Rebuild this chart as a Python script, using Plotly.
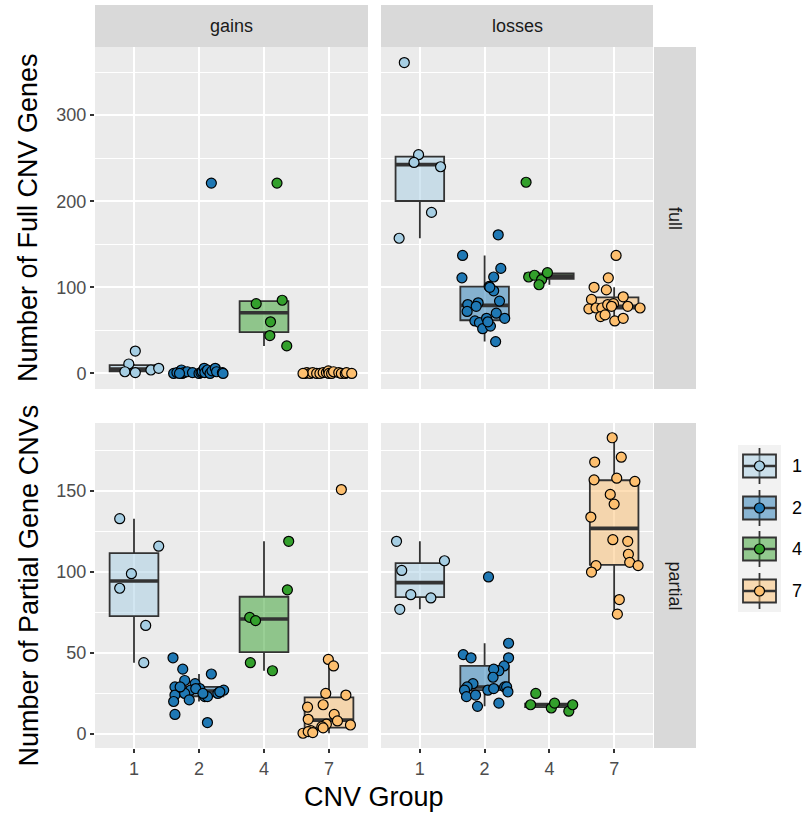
import numpy as np
import plotly.graph_objects as go

W, H = 806, 814

groups = ["1", "2", "4", "7"]
group_colors = ["#A6CEE3", "#1F78B4", "#33A02C", "#FDBF6F"]
directions = ["gains", "losses"]
types = ["full", "partial"]

# ---- gains / full ----
gains_full_1_y = [26, 11, 2, 1, 4, 6]
gains_full_1_dx = [0.02, -0.08, -0.14, 0.02, 0.26, 0.38]
gains_full_2_y = [0, 1, 4, 0, 1, 2, 1, 0, 1, 2, 6, 1, 4, 0, 221, 3, 6, 2, 1, 0, 0]
gains_full_2_dx = [-0.39, -0.34, -0.27, -0.26, -0.23, -0.18, -0.10, 0.00, 0.03, 0.05, 0.08,
                   0.09, 0.13, 0.17, 0.19, 0.20, 0.25, 0.27, 0.36, 0.37, -0.30]
gains_full_4_y = [81, 85, 60, 44, 32, 221]
gains_full_4_dx = [-0.12, 0.28, 0.10, 0.09, 0.35, 0.20]
gains_full_7_y = [0, 1, 0, 1, 0, 0, 1, 1, 3, 0, 0, 2, 1, 0, 0, 1, 0, 0]
gains_full_7_dx = [-0.37, -0.34, -0.29, -0.25, -0.19, -0.14, -0.09, -0.04, -0.01, 0.00,
                   0.04, 0.07, 0.15, 0.19, 0.25, 0.27, 0.35, -0.40]

# ---- losses / full ----
losses_full_1_y = [361, 254, 245, 240, 187, 157]
losses_full_1_dx = [-0.24, -0.02, -0.09, 0.32, 0.18, -0.32]
losses_full_2_y = [137, 111, 161, 122, 112, 101, 96, 80, 82, 84, 72, 61, 59, 64, 52, 55,
                   70, 64, 37, 78, 60, 100]
losses_full_2_dx = [-0.34, -0.35, 0.21, 0.25, 0.14, 0.07, 0.14, -0.26, -0.10, 0.23, -0.27,
                    -0.15, -0.08, 0.03, -0.03, 0.09, 0.18, 0.31, 0.17, -0.13, 0.05, 0.08]
losses_full_4_y = [222, 112, 114, 109, 117, 103]
losses_full_4_dx = [-0.36, -0.32, -0.23, -0.12, -0.03, -0.16]
losses_full_7_y = [137, 111, 100, 97, 89, 86, 78, 76, 75, 76, 76, 80, 81, 66, 68, 61, 64, 78]
losses_full_7_dx = [0.03, -0.09, -0.31, -0.12, 0.14, -0.35, 0.21, 0.40, -0.39, -0.28, -0.19,
                    -0.10, -0.01, -0.21, -0.14, 0.01, 0.14, -0.04]

# ---- gains / partial ----
gains_partial_1_y = [133, 116, 99, 90, 67, 44]
gains_partial_1_dx = [-0.22, 0.38, -0.04, -0.22, 0.18, 0.15]
gains_partial_2_y = [47, 40, 33, 31, 29, 27, 28, 24, 25, 21, 20, 23, 23, 37, 25, 27, 26, 12,
                     7, 29, 28, 25]
gains_partial_2_dx = [-0.40, -0.25, -0.22, -0.06, -0.37, -0.13, 0.01, -0.37, -0.22, -0.15,
                      -0.39, 0.09, 0.13, 0.19, 0.29, 0.38, 0.32, -0.37, 0.13, -0.29, -0.05, 0.06]
gains_partial_4_y = [119, 89, 72, 70, 44, 39]
gains_partial_4_dx = [0.38, 0.36, -0.22, -0.13, -0.21, 0.13]
gains_partial_7_y = [151, 46, 42, 25, 24, 18, 16.5, 12, 9, 8, 6, 5.5, 4.5, 3.7, 2, 0.4, 1.4, 0.8]
gains_partial_7_dx = [0.19, -0.01, 0.07, -0.05, 0.26, -0.09, -0.33, 0.08, -0.32, 0.13, -0.04,
                      0.33, -0.11, -0.09, -0.28, -0.40, -0.32, -0.25]

# ---- losses / partial ----
losses_partial_1_y = [119, 107, 101, 86, 84, 77]
losses_partial_1_dx = [-0.36, 0.38, -0.28, -0.14, 0.17, -0.31]
losses_partial_2_y = [97, 49, 47, 56, 47, 42, 39, 40, 35, 31, 29, 27, 23, 24, 17, 27, 28, 19,
                      29, 29, 26]
losses_partial_2_dx = [0.06, -0.33, -0.21, 0.37, 0.37, 0.30, 0.22, 0.14, 0.13, -0.18, -0.27,
                       -0.31, -0.28, -0.14, -0.11, 0.05, 0.14, 0.22, 0.31, 0.34, 0.36]
losses_partial_4_y = [25, 18, 16, 19, 14, 18]
losses_partial_4_dx = [-0.21, -0.29, 0.03, 0.08, 0.30, 0.36]
losses_partial_7_y = [183, 171, 168, 157, 158, 156, 148, 142, 134, 120, 119, 111, 106, 104,
                      104, 100, 83, 74]
losses_partial_7_dx = [-0.03, 0.11, -0.30, -0.31, 0.04, 0.32, -0.06, 0.00, -0.36, -0.02, 0.21,
                       0.22, 0.24, 0.37, -0.28, -0.35, 0.08, 0.05]

panel_data = {
    ("gains", "full"): ([gains_full_1_y, gains_full_2_y, gains_full_4_y, gains_full_7_y],
                        [gains_full_1_dx, gains_full_2_dx, gains_full_4_dx, gains_full_7_dx]),
    ("losses", "full"): ([losses_full_1_y, losses_full_2_y, losses_full_4_y, losses_full_7_y],
                         [losses_full_1_dx, losses_full_2_dx, losses_full_4_dx, losses_full_7_dx]),
    ("gains", "partial"): ([gains_partial_1_y, gains_partial_2_y, gains_partial_4_y, gains_partial_7_y],
                           [gains_partial_1_dx, gains_partial_2_dx, gains_partial_4_dx, gains_partial_7_dx]),
    ("losses", "partial"): ([losses_partial_1_y, losses_partial_2_y, losses_partial_4_y, losses_partial_7_y],
                            [losses_partial_1_dx, losses_partial_2_dx, losses_partial_4_dx, losses_partial_7_dx]),
}

y_titles = {"full": "Number of Full CNV Genes", "partial": "Number of Partial Gene CNVs"}
y_ticks = {"full": [0, 100, 200, 300], "partial": [0, 50, 100, 150]}
y_minor = {"full": [50, 150, 250, 350], "partial": [25, 75, 125, 175]}
x_title = "CNV Group"

FONT = "Liberation Sans, Arial, Helvetica, sans-serif"
BOX_LINE = "#333333"
TICK_SIZE = 18
STRIP_SIZE = 18
TITLE_SIZE = 27

# layout geometry (pixels)
col_px = [(95, 368), (381, 653)]
row_px = [(47, 389), (423, 748)]


def fx(px):
    return px / W


def fy(py):
    return 1 - py / H


def hex_rgba(h, a):
    h = h.lstrip("#")
    return "rgba(%d,%d,%d,%.2f)" % (int(h[0:2], 16), int(h[2:4], 16), int(h[4:6], 16), a)


fig = go.Figure()

box_traces, med_traces, pt_traces = [], [], []
layout_axes = {}
ax_i = 0
for r, t in enumerate(types):
    all_vals = np.concatenate([np.array(v, float) for d in directions for v in panel_data[(d, t)][0]])
    lo_d, hi_d = all_vals.min(), all_vals.max()
    pad = 0.05 * (hi_d - lo_d)
    yrange = [lo_d - pad, hi_d + pad]
    for c, d in enumerate(directions):
        ax_i += 1
        sfx = "" if ax_i == 1 else str(ax_i)
        xa, ya = "x" + sfx, "y" + sfx
        ys_list, dx_list = panel_data[(d, t)]
        for g in range(4):
            v = np.array(ys_list[g], float)
            q1, med, q3 = np.percentile(v, [25, 50, 75])
            iqr = q3 - q1
            lf = v[v >= q1 - 1.5 * iqr].min()
            uf = v[v <= q3 + 1.5 * iqr].max()
            pos = g + 1
            box_traces.append(go.Box(
                x=[pos], q1=[q1], median=[med], q3=[q3], lowerfence=[lf], upperfence=[uf],
                orientation="v", width=0.75, whiskerwidth=0, boxpoints=False,
                fillcolor=hex_rgba(group_colors[g], 0.5),
                line=dict(color=BOX_LINE, width=1.8),
                xaxis=xa, yaxis=ya, showlegend=False, hoverinfo="skip"))
            med_traces.append(go.Scatter(
                x=[pos - 0.375, pos + 0.375], y=[med, med], mode="lines",
                line=dict(color=BOX_LINE, width=3.6), xaxis=xa, yaxis=ya,
                showlegend=False, hoverinfo="skip"))
            pt_traces.append(go.Scatter(
                x=[pos + dx for dx in dx_list[g]], y=ys_list[g], mode="markers",
                marker=dict(size=10, color=group_colors[g], line=dict(color="black", width=1.2)),
                xaxis=xa, yaxis=ya, showlegend=False, name=groups[g]))
        bottom = (r == 1)
        layout_axes["xaxis" + sfx] = dict(
            domain=[fx(col_px[c][0]), fx(col_px[c][1])], anchor=ya,
            range=[0.4, 4.6], tickvals=[1, 2, 3, 4], ticktext=groups,
            showgrid=True, gridcolor="white", gridwidth=1.8, zeroline=False, showline=False,
            ticks="outside" if bottom else "", ticklen=4, tickwidth=1.5, tickcolor="#333333",
            showticklabels=bottom, tickfont=dict(size=TICK_SIZE, color="#4D4D4D", family=FONT))
        left = (c == 0)
        layout_axes["yaxis" + sfx] = dict(
            domain=[fy(row_px[r][1]), fy(row_px[r][0])], anchor=xa,
            range=yrange, tickvals=y_ticks[t],
            minor=dict(tickvals=y_minor[t], showgrid=True, gridcolor="white", gridwidth=0.9),
            showgrid=True, gridcolor="white", gridwidth=1.8, zeroline=False, showline=False,
            ticks="outside" if left else "", ticklen=4, tickwidth=1.5, tickcolor="#333333",
            showticklabels=left, tickfont=dict(size=TICK_SIZE, color="#4D4D4D", family=FONT))

for tr in box_traces + med_traces + pt_traces:
    fig.add_trace(tr)

shapes = []
annotations = []


def ann(text, x, y, size, color, angle=0, xanchor="center"):
    annotations.append(dict(text=text, xref="paper", yref="paper", x=x, y=y,
                            xanchor=xanchor, yanchor="middle", textangle=angle,
                            showarrow=False, font=dict(size=size, color=color, family=FONT)))


# top strips
for c, d in enumerate(directions):
    shapes.append(dict(type="rect", xref="paper", yref="paper",
                       x0=fx(col_px[c][0]), x1=fx(col_px[c][1]), y0=fy(47), y1=fy(5),
                       fillcolor="#D9D9D9", line=dict(width=0), layer="below"))
    ann(d, fx((col_px[c][0] + col_px[c][1]) / 2), fy(26), STRIP_SIZE, "#1A1A1A")
# right strips and y titles
for r, t in enumerate(types):
    shapes.append(dict(type="rect", xref="paper", yref="paper",
                       x0=fx(654), x1=fx(696), y0=fy(row_px[r][1]), y1=fy(row_px[r][0]),
                       fillcolor="#D9D9D9", line=dict(width=0), layer="below"))
    cy = (row_px[r][0] + row_px[r][1]) / 2
    ann(t, fx(675), fy(cy), STRIP_SIZE, "#1A1A1A", angle=90)
    ann(y_titles[t], fx(28), fy(cy), TITLE_SIZE, "black", angle=-90)
ann(x_title, fx((col_px[0][0] + col_px[1][1]) / 2), fy(797), TITLE_SIZE, "black")

# legend (drawn manually, ggplot-style boxplot keys)
leg_x0, leg_x1 = 738, 781
leg_centers = [466, 508, 549, 591]
shapes.append(dict(type="rect", xref="paper", yref="paper",
                   x0=fx(leg_x0), x1=fx(leg_x1), y0=fy(612), y1=fy(445),
                   fillcolor="#F2F2F2", line=dict(width=0)))
kx0, kx1 = 743, 776
kcx = (kx0 + kx1) / 2
for g in range(4):
    cy = leg_centers[g]
    shapes.append(dict(type="line", xref="paper", yref="paper", x0=fx(kcx), x1=fx(kcx),
                       y0=fy(cy - 18), y1=fy(cy + 18), line=dict(color=BOX_LINE, width=1.8)))
    shapes.append(dict(type="rect", xref="paper", yref="paper", x0=fx(kx0), x1=fx(kx1),
                       y0=fy(cy + 11.5), y1=fy(cy - 11.5),
                       fillcolor=hex_rgba(group_colors[g], 0.5), line=dict(color=BOX_LINE, width=1.8)))
    shapes.append(dict(type="line", xref="paper", yref="paper", x0=fx(kx0), x1=fx(kx1),
                       y0=fy(cy), y1=fy(cy), line=dict(color=BOX_LINE, width=2.5)))
    shapes.append(dict(type="circle", xref="paper", yref="paper",
                       x0=fx(kcx - 5), x1=fx(kcx + 5), y0=fy(cy + 5), y1=fy(cy - 5),
                       fillcolor=group_colors[g], line=dict(color="black", width=1.2)))
    ann(groups[g], fx(790), fy(cy), 18, "black", xanchor="left")

fig.update_layout(
    width=W, height=H, margin=dict(l=0, r=0, t=0, b=0),
    paper_bgcolor="white", plot_bgcolor="#EBEBEB",
    showlegend=False, shapes=shapes, annotations=annotations,
    font=dict(family=FONT), **layout_axes)

fig.write_html("out.html")
